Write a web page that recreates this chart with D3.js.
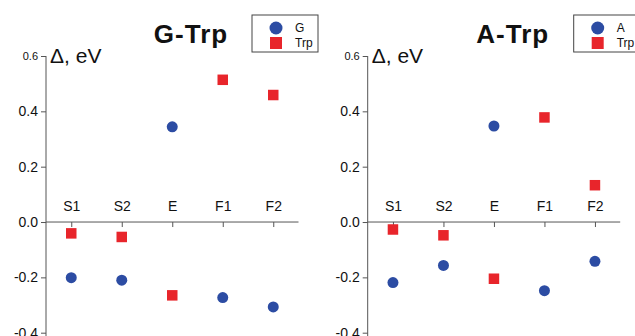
<!DOCTYPE html>
<html>
<head>
<meta charset="utf-8">
<script src="https://cdn.jsdelivr.net/npm/d3@7"></script>
<style>
  body { margin: 0; background: #fff; }
  svg { display: block; font-family: Arial, "Liberation Sans", sans-serif; }
</style>
</head>
<body>
<div id="chart"></div>
<script>
// categories and values
const categories = ['S1', 'S2', 'E', 'F1', 'F2'];
const yTicks = [-0.4, -0.2, 0.0, 0.2, 0.4, 0.6];

const gValues = [-0.201, -0.210, 0.344, -0.273, -0.307];
const gTrpValues = [-0.041, -0.054, -0.265, 0.514, 0.459];
const aValues = [-0.219, -0.157, 0.347, -0.248, -0.142];
const aTrpValues = [-0.027, -0.048, -0.205, 0.378, 0.133];

const panels = [
  { title: 'G-Trp', base: 'G', baseValues: gValues, trpValues: gTrpValues },
  { title: 'A-Trp', base: 'A', baseValues: aValues, trpValues: aTrpValues }
];

const width = 635;
const height = 336;
const blue = '#2c4ca3';
const red = '#e8252b';
const axisColor = '#555';

const svg = d3.select('#chart')
  .append('svg')
  .attr('width', width)
  .attr('height', height);

// y scale is the same for both panels
const y = d3.scaleLinear().domain([-0.4, 0.6]).range([332.7, 56]);

panels.forEach((p, i) => {
  const left = 46 + i * 321.7;
  const right = left + 252.5;

  const g = svg.append('g');

  const x = d3.scalePoint().domain(categories).range([left, right]).padding(0.5);

  // y axis
  const yAxis = g.append('g')
    .attr('transform', `translate(${left},0)`)
    .call(d3.axisLeft(y).tickValues(yTicks).tickSize(5).tickSizeOuter(0)
      .tickFormat((d) => d.toFixed(1)));
  yAxis.select('.domain').remove();
  yAxis.selectAll('line').attr('stroke', axisColor);
  yAxis.selectAll('text')
    .attr('font-size', (d) => (d === 0.6 ? 11 : 14))
    .attr('fill', '#111')
    .attr('x', -8);
  g.append('line')
    .attr('x1', left).attr('x2', left)
    .attr('y1', y(0.6)).attr('y2', height)
    .attr('stroke', axisColor);

  // x axis at zero, labels above the line
  const xAxis = g.append('g')
    .attr('transform', `translate(0,${y(0)})`)
    .call(d3.axisBottom(x).tickSize(5).tickSizeOuter(0));
  xAxis.select('.domain').remove();
  xAxis.selectAll('line').attr('stroke', axisColor);
  xAxis.selectAll('text')
    .attr('y', -11)
    .attr('dy', 0)
    .attr('font-size', 14)
    .attr('fill', '#111');
  g.append('line')
    .attr('x1', left).attr('x2', right)
    .attr('y1', y(0)).attr('y2', y(0))
    .attr('stroke', axisColor);

  // axis title
  g.append('text')
    .attr('x', left + 4)
    .attr('y', 63)
    .attr('font-size', 21)
    .attr('fill', '#111')
    .text('Δ, eV');

  // panel title
  g.append('text')
    .attr('x', left + 145)
    .attr('y', 43)
    .attr('text-anchor', 'middle')
    .attr('font-size', 26)
    .attr('font-weight', 'bold')
    .attr('letter-spacing', 1)
    .attr('fill', '#111')
    .text(p.title);

  // base series: circles
  g.selectAll('circle.base')
    .data(p.baseValues)
    .enter()
    .append('circle')
    .attr('class', 'base')
    .attr('cx', (d, j) => x(categories[j]))
    .attr('cy', (d) => y(d))
    .attr('r', 5.5)
    .attr('fill', blue);

  // Trp series: squares
  const s = 10.5;
  g.selectAll('rect.trp')
    .data(p.trpValues)
    .enter()
    .append('rect')
    .attr('class', 'trp')
    .attr('x', (d, j) => x(categories[j]) - s / 2)
    .attr('y', (d) => y(d) - s / 2)
    .attr('width', s)
    .attr('height', s)
    .attr('fill', red);

  // legend
  const lx = left + 206;
  const legend = g.append('g').attr('transform', `translate(${lx},15)`);
  legend.append('rect')
    .attr('x', 0).attr('y', 0)
    .attr('width', 66).attr('height', 37)
    .attr('fill', '#fff')
    .attr('stroke', '#444')
    .attr('stroke-width', 1);
  legend.append('circle')
    .attr('cx', 24).attr('cy', 13)
    .attr('r', 6.5)
    .attr('fill', blue);
  legend.append('rect')
    .attr('x', 18).attr('y', 22)
    .attr('width', 12).attr('height', 12)
    .attr('fill', red);
  legend.append('text')
    .attr('x', 43).attr('y', 17)
    .attr('font-size', 12)
    .attr('fill', '#111')
    .text(p.base);
  legend.append('text')
    .attr('x', 43).attr('y', 32)
    .attr('font-size', 12)
    .attr('fill', '#111')
    .text('Trp');
});
</script>
</body>
</html>
